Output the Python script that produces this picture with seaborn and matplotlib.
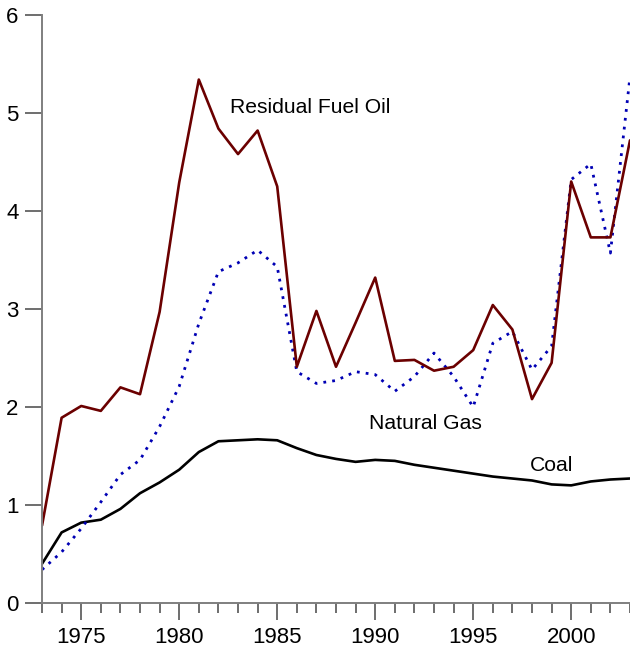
import pandas as pd
import matplotlib
matplotlib.use("Agg")
import matplotlib.pyplot as plt
import seaborn as sns
from matplotlib.ticker import MultipleLocator

# data
years = list(range(1973, 2004))
fuel_oil = [0.79, 1.89, 2.01, 1.96, 2.20, 2.13, 2.97, 4.29, 5.34, 4.84,
            4.58, 4.82, 4.25, 2.41, 2.98, 2.41, 2.86, 3.32, 2.47, 2.48,
            2.37, 2.41, 2.58, 3.04, 2.79, 2.08, 2.45, 4.30, 3.73, 3.73, 4.72]
nat_gas = [0.34, 0.52, 0.76, 1.03, 1.31, 1.46, 1.80, 2.21, 2.85, 3.38,
           3.47, 3.60, 3.43, 2.36, 2.24, 2.27, 2.36, 2.33, 2.16, 2.31,
           2.55, 2.31, 2.00, 2.65, 2.77, 2.38, 2.62, 4.32, 4.48, 3.57, 5.37]
coal = [0.40, 0.72, 0.82, 0.85, 0.96, 1.12, 1.23, 1.36, 1.54, 1.65,
        1.66, 1.67, 1.66, 1.58, 1.51, 1.47, 1.44, 1.46, 1.45, 1.41,
        1.38, 1.35, 1.32, 1.29, 1.27, 1.25, 1.21, 1.20, 1.24, 1.26, 1.27]

df = pd.DataFrame({"year": years, "Residual Fuel Oil": fuel_oil,
                   "Natural Gas": nat_gas, "Coal": coal})

sns.set_style("ticks")
plt.rcParams["font.family"] = ["Liberation Sans", "DejaVu Sans"]
plt.rcParams["text.color"] = "black"

fig = plt.figure(figsize=(6.3, 6.47), dpi=100)
ax = fig.add_axes([0.0667, 0.068, 0.9333, 0.909])

sns.lineplot(data=df, x="year", y="Coal", color="black", linewidth=1.9, ax=ax)
sns.lineplot(data=df, x="year", y="Natural Gas", color="#0000b4", linewidth=2,
             linestyle=(0, (1, 2.2)), ax=ax)
sns.lineplot(data=df, x="year", y="Residual Fuel Oil", color="#6b0000",
             linewidth=1.9, ax=ax)

ax.text(1982.6, 5.06, "Residual Fuel Oil", fontsize=15.2, va="center", color="black")
ax.text(1989.7, 1.83, "Natural Gas", fontsize=15.2, va="center", color="black")
ax.text(1997.9, 1.40, "Coal", fontsize=15.2, va="center", color="black")

ax.set_xlim(1973, 2003)
ax.set_ylim(0, 6)
ax.set_xlabel("")
ax.set_ylabel("")
ax.xaxis.set_major_locator(MultipleLocator(5))
ax.xaxis.set_minor_locator(MultipleLocator(1))
ax.yaxis.set_major_locator(MultipleLocator(1))

sns.despine(ax=ax)
for s in ["left", "bottom"]:
    ax.spines[s].set_color("#7f7f7f")
    ax.spines[s].set_linewidth(1.4)
ax.tick_params(axis="both", which="major", length=12, width=1.2,
               color="#555555", labelsize=16, pad=5, labelcolor="black")
ax.tick_params(axis="x", which="minor", length=7, width=1.2, color="#555555")

fig.savefig("out.png", dpi=100)
